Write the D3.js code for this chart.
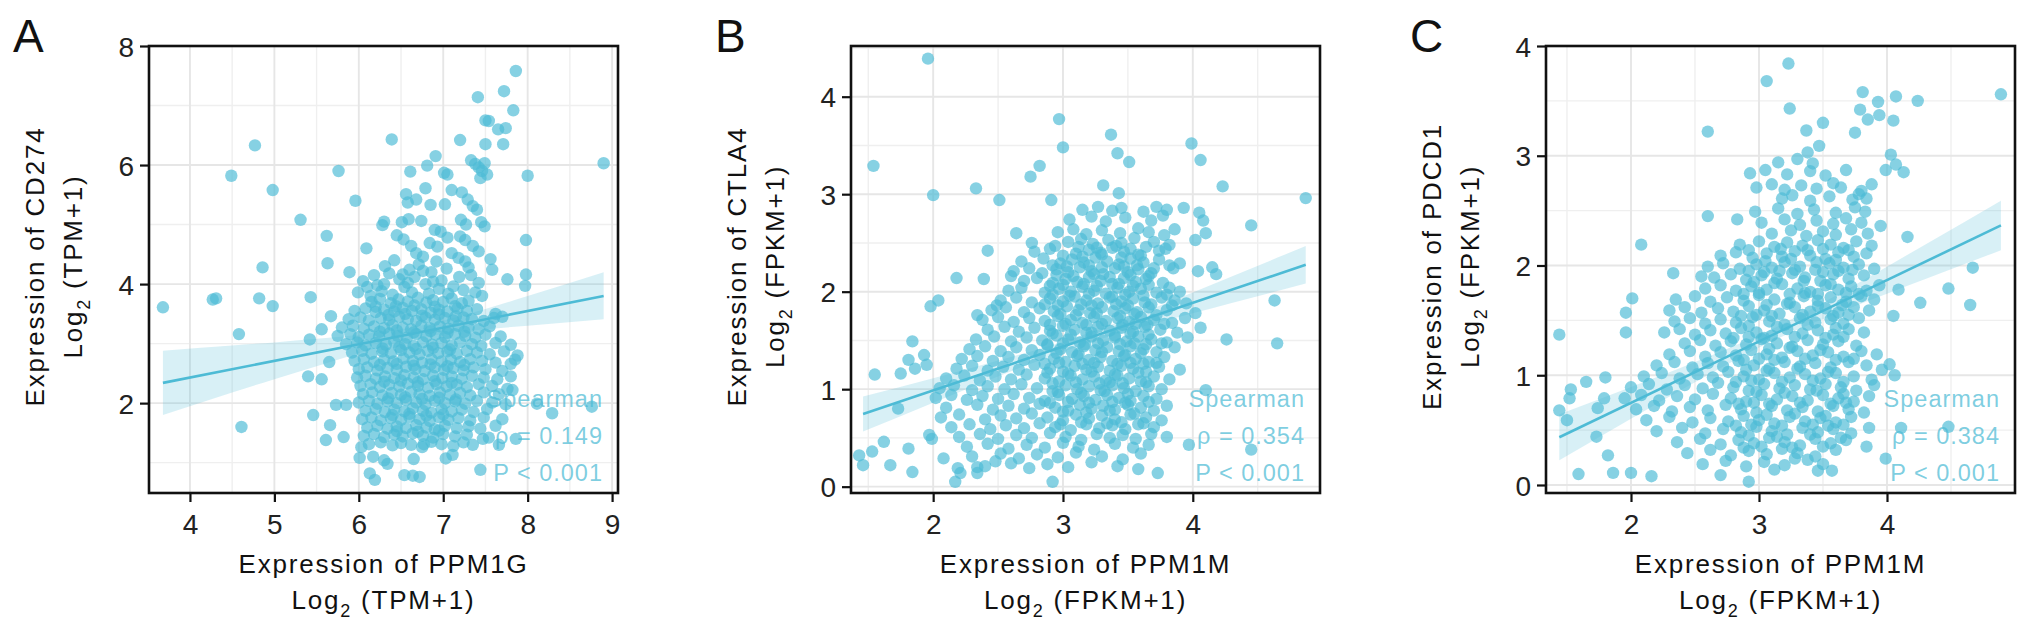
<!DOCTYPE html>
<html>
<head>
<meta charset="utf-8">
<script src="https://cdn.jsdelivr.net/npm/d3@7"></script>
<style>
  body { margin: 0; background: #fff; }
  svg { display: block; }
  text { font-family: "Liberation Sans", Arial, Helvetica, sans-serif; }
</style>
</head>
<body>
<svg id="chart" width="2032" height="630"></svg>
<script>
// ---- data ----

// panel A: PPM1G (x) vs CD274 (y), log2(TPM+1)
const cd274Points = [
  [3.68,3.61],[4.27,3.74],[4.31,3.76],[4.49,5.82],[4.58,3.16],[4.61,1.60],[4.77,6.33],[4.82,3.76],[4.86,4.28],[4.98,5.58],[4.98,3.63],
  [5.31,5.08],[5.40,2.45],[5.42,3.07],[5.43,3.78],[5.46,1.80],[5.56,3.24],[5.56,2.40],[5.61,1.38],[5.62,4.81],[5.63,4.35],[5.65,2.69],
  [5.66,1.63],[5.67,3.46],[5.73,1.97],[5.76,5.90],[5.82,1.43],[5.85,1.97],[5.89,4.20],[5.96,5.40],[6.09,4.60],[6.28,4.99],[6.39,6.43],
  [7.86,7.58],[7.41,7.14],[7.72,7.24],[7.83,6.92],[7.50,6.75],[7.54,6.74],[7.65,6.60],[7.74,6.62],[7.50,6.35],[7.71,6.35],[7.20,6.42],
  [8.90,6.03],[8.00,5.82],[7.98,4.74],[7.98,4.16],[7.97,3.97],[7.76,4.08],
  [7.33,6.08],[7.38,6.02],[7.42,5.96],[7.46,5.90],[7.52,5.84],[7.49,6.03],[7.44,5.78],
  [6.91,6.15],[6.81,5.99],[6.61,5.89],[7.01,5.87],[7.05,5.84],
  [8.11,1.99],[8.29,1.83],[8.76,1.94],[7.44,0.88],[7.35,1.30],[7.47,1.40],[7.54,1.42],[7.66,1.30],[7.86,1.40],[7.82,2.22],[7.76,2.24],[7.88,2.80],[7.80,2.66],
  [6.19,0.71],[6.13,0.82],[6.54,0.79],[6.64,0.78],[6.72,0.76],[6.03,1.26],[6.01,1.08],[6.17,1.10],[6.34,0.98],[6.30,1.04],[6.65,1.06],[6.75,1.26],[6.77,1.31],[7.03,1.07],[7.11,1.13],
  [6.56,5.51],[6.58,5.37],[6.68,5.42],[6.79,5.61],[6.85,5.33],[7.02,5.34],[7.10,5.58],[7.22,5.54],[7.29,5.42],[7.35,5.31],[7.40,5.25],
  [6.30,5.05],[6.51,5.04],[6.59,5.09],[6.74,5.06],[6.90,4.91],[6.97,4.88],[7.05,4.78],[7.21,5.08],[7.27,5.00],[7.45,5.04],[7.49,4.97],
  [7.20,4.80],[7.26,4.74],[6.45,4.82],[6.53,4.75],[6.62,4.64],[6.68,4.52],[6.76,4.46],[6.84,4.69],[6.93,4.63],[7.10,4.52],[7.18,4.44],
  [7.35,4.64],[7.42,4.55],[7.56,4.42],[7.58,4.24],[7.30,4.28],[7.33,4.15],[7.42,4.02],
  [6.05,4.05],[6.10,3.95],[6.18,4.15],[6.22,3.98],[6.31,4.30],[6.36,4.18],[6.42,4.40],[6.48,4.08],[6.54,3.95],[6.60,4.24],[6.66,4.12],
  [6.71,4.33],[6.79,4.00],[6.86,4.20],[6.92,4.38],[6.98,4.06],[7.04,4.26],[7.12,3.96],[7.19,4.12],[7.24,3.90],[7.38,3.86],[7.46,3.80],
  [6.27,3.88],[6.40,3.82],[6.63,3.86],[6.83,3.84],[6.95,3.92],[5.99,3.86],[6.14,3.80],[7.62,3.50],[7.70,3.45],
  [6.15,3.70],[6.25,3.75],[6.38,3.68],[6.47,3.74],[6.58,3.71],[6.70,3.77],[6.80,3.69],[6.88,3.73],[7.00,3.70],[7.10,3.76],[7.22,3.68],[7.30,3.72],
  [5.95,3.55],[6.08,3.59],[6.20,3.53],[6.30,3.57],[6.42,3.54],[6.52,3.60],[6.63,3.55],[6.74,3.58],[6.85,3.52],[6.95,3.57],[7.05,3.54],[7.17,3.59],[7.28,3.55],[7.40,3.58],
  [5.88,3.41],[6.02,3.44],[6.12,3.39],[6.26,3.43],[6.36,3.40],[6.48,3.45],[6.58,3.41],[6.68,3.38],[6.79,3.44],[6.90,3.40],[7.02,3.43],[7.12,3.39],[7.24,3.44],[7.34,3.41],[7.48,3.38],[7.60,3.43],
  [5.80,3.27],[5.93,3.30],[6.06,3.25],[6.18,3.29],[6.30,3.26],[6.40,3.31],[6.52,3.27],[6.62,3.24],[6.74,3.30],[6.84,3.26],[6.96,3.29],[7.06,3.25],[7.18,3.30],[7.30,3.27],[7.42,3.24],[7.55,3.29],
  [5.75,3.13],[5.90,3.16],[6.00,3.11],[6.12,3.15],[6.24,3.12],[6.36,3.17],[6.46,3.13],[6.57,3.10],[6.68,3.16],[6.80,3.12],[6.91,3.15],[7.02,3.11],[7.14,3.16],[7.26,3.13],[7.38,3.10],[7.50,3.15],[7.68,3.12],
  [5.85,2.99],[5.98,3.02],[6.08,2.97],[6.20,3.01],[6.32,2.98],[6.42,3.03],[6.55,2.99],[6.65,2.96],[6.76,3.02],[6.87,2.98],[6.98,3.01],[7.10,2.97],[7.20,3.02],[7.34,2.99],[7.45,2.96],[7.62,3.01],[7.80,2.98],
  [5.92,2.85],[6.04,2.88],[6.15,2.83],[6.28,2.87],[6.38,2.84],[6.50,2.89],[6.60,2.85],[6.72,2.82],[6.82,2.88],[6.94,2.84],[7.05,2.87],[7.16,2.83],[7.28,2.88],[7.40,2.85],[7.55,2.82],[7.72,2.87],
  [5.95,2.71],[6.06,2.74],[6.18,2.69],[6.30,2.73],[6.41,2.70],[6.53,2.75],[6.64,2.71],[6.75,2.68],[6.86,2.74],[6.98,2.70],[7.09,2.73],[7.20,2.69],[7.32,2.74],[7.46,2.71],[7.62,2.68],[7.85,2.73],
  [6.00,2.57],[6.10,2.60],[6.22,2.55],[6.34,2.59],[6.45,2.56],[6.56,2.61],[6.67,2.57],[6.78,2.54],[6.90,2.60],[7.01,2.56],[7.12,2.59],[7.24,2.55],[7.36,2.60],[7.50,2.57],[7.70,2.54],
  [5.98,2.43],[6.08,2.46],[6.20,2.41],[6.31,2.45],[6.42,2.42],[6.54,2.47],[6.65,2.43],[6.76,2.40],[6.88,2.46],[6.99,2.42],[7.10,2.45],[7.22,2.41],[7.34,2.46],[7.48,2.43],[7.64,2.40],[7.80,2.45],
  [6.02,2.29],[6.14,2.32],[6.25,2.27],[6.36,2.31],[6.48,2.28],[6.58,2.33],[6.70,2.29],[6.82,2.26],[6.92,2.32],[7.04,2.28],[7.16,2.31],[7.28,2.27],[7.42,2.32],[7.58,2.29],
  [6.05,2.15],[6.16,2.18],[6.28,2.13],[6.39,2.17],[6.50,2.14],[6.62,2.19],[6.72,2.15],[6.84,2.12],[6.96,2.18],[7.08,2.14],[7.20,2.17],[7.32,2.13],[7.48,2.18],[7.66,2.15],
  [6.00,2.01],[6.12,2.04],[6.22,1.99],[6.34,2.03],[6.45,2.00],[6.56,2.05],[6.68,2.01],[6.79,1.98],[6.90,2.04],[7.02,2.00],[7.14,2.03],[7.26,1.99],[7.40,2.04],[7.58,2.01],[7.74,1.98],
  [6.08,1.87],[6.20,1.90],[6.31,1.85],[6.42,1.89],[6.54,1.86],[6.64,1.91],[6.76,1.87],[6.86,1.84],[6.98,1.90],[7.10,1.86],[7.22,1.89],[7.36,1.85],[7.52,1.90],
  [6.04,1.73],[6.15,1.76],[6.26,1.71],[6.38,1.75],[6.50,1.72],[6.60,1.77],[6.72,1.73],[6.84,1.70],[6.95,1.76],[7.06,1.72],[7.18,1.75],[7.32,1.71],[7.48,1.76],[7.70,1.73],
  [6.10,1.59],[6.22,1.62],[6.34,1.57],[6.45,1.61],[6.56,1.58],[6.68,1.63],[6.80,1.59],[6.90,1.56],[7.02,1.62],[7.16,1.58],[7.30,1.61],[7.44,1.57],[7.62,1.62],
  [6.06,1.45],[6.18,1.48],[6.30,1.43],[6.42,1.47],[6.52,1.44],[6.64,1.49],[6.76,1.45],[6.88,1.42],[7.00,1.48],[7.14,1.44],[7.28,1.47],
  [6.12,1.31],[6.26,1.34],[6.40,1.29],[6.50,1.33],[6.62,1.30],[6.86,1.35],[6.98,1.31],[7.12,1.28],[7.24,1.34],
  [6.35,3.48],[6.55,3.50],[6.75,3.47],[6.95,3.49],[7.15,3.46],[6.25,3.20],[6.45,3.22],[6.65,3.19],[6.85,3.21],[7.05,3.18],[7.25,3.20],
  [6.28,2.92],[6.48,2.94],[6.68,2.91],[6.88,2.93],[7.08,2.90],[6.25,2.64],[6.45,2.66],[6.65,2.63],[6.85,2.65],[7.05,2.62],[7.25,2.64],
  [6.30,2.36],[6.50,2.38],[6.70,2.35],[6.90,2.37],[7.10,2.34],[6.35,2.08],[6.55,2.10],[6.75,2.07],[6.95,2.09],[7.15,2.06],
  [6.40,1.80],[6.60,1.82],[6.80,1.79],[7.00,1.81],[6.45,1.53],[6.70,1.52],[6.95,1.54],
  [6.20,3.62],[6.44,3.63],[6.66,3.64],[6.90,3.62],[7.14,3.63],[6.30,4.00],[6.58,4.02],[6.88,4.04],[7.06,3.84],[6.52,4.16],[6.76,4.22],[7.26,4.38]
]
const cd274Fit = [[3.68,2.34],[8.90,3.80]]
// x, lower, upper of the confidence ribbon
const cd274Band = [[3.68,1.80,2.88],[4.5,2.18,2.97],[5.0,2.40,3.02],[5.5,2.62,3.08],[6.0,2.84,3.15],[6.7,3.09,3.29],[7.5,3.24,3.58],[8.0,3.30,3.80],[8.9,3.41,4.20]]

// panel B: PPM1M (x) vs CTLA4 (y), log2(FPKM+1)
const ctla4Points = [
  [1.96,4.39],[1.54,3.29],[2.00,2.99],[2.33,3.06],[2.51,2.94],[2.75,3.18],[2.82,3.29],[2.91,2.94],[2.97,3.77],[3.00,3.48],[3.37,3.61],
  [3.42,3.42],[3.51,3.33],[3.31,3.09],[3.43,3.01],[3.99,3.52],[4.06,3.35],[4.23,3.08],[4.87,2.96],[4.45,2.68],[4.63,1.91],[4.65,1.47],
  [4.26,1.51],[4.15,2.25],[4.10,0.99],[4.45,0.38],[3.97,0.43],[3.73,0.14],[2.92,0.05],[2.17,0.05],
  [2.64,2.60],[2.76,2.50],[2.42,2.42],[2.18,2.14],[2.39,2.13],[2.60,2.16],[1.98,1.85],[2.04,1.91],[2.34,1.76],[2.49,1.86],
  [1.84,1.49],[1.81,1.30],[1.93,1.35],[1.86,1.21],[1.75,1.16],[1.55,1.15],[1.95,1.25],[1.73,0.80],
  [1.43,0.32],[1.46,0.22],[1.53,0.36],[1.62,0.46],[1.67,0.22],[1.81,0.39],[1.84,0.15],[1.97,0.53],[1.99,0.49],[2.08,0.29],[2.19,0.19],
  [2.21,0.14],[2.34,0.20],[2.34,0.14],[2.48,0.26],
  [3.15,2.84],[3.27,2.87],[3.38,2.83],[3.45,2.86],[3.62,2.82],[3.72,2.87],[3.80,2.84],[3.93,2.86],[4.05,2.81],
  [3.05,2.74],[3.22,2.77],[3.33,2.72],[3.48,2.76],[3.68,2.73],[3.77,2.78],[4.08,2.73],
  [2.96,2.61],[3.08,2.64],[3.18,2.59],[3.30,2.63],[3.44,2.60],[3.58,2.65],[3.66,2.61],[3.78,2.58],[3.86,2.64],[4.10,2.60],
  [3.04,2.51],[3.14,2.54],[3.23,2.49],[3.35,2.53],[3.45,2.50],[3.55,2.55],[3.70,2.51],[3.82,2.48],[4.02,2.53],
  [2.78,2.41],[2.90,2.44],[3.10,2.39],[3.20,2.43],[3.29,2.40],[3.38,2.45],[3.47,2.41],[3.58,2.38],[3.79,2.44],
  [2.68,2.31],[2.85,2.34],[2.98,2.29],[3.07,2.33],[3.16,2.30],[3.25,2.35],[3.34,2.31],[3.43,2.28],[3.52,2.34],[3.62,2.30],[3.74,2.33],[3.90,2.29],
  [2.62,2.21],[2.74,2.24],[2.84,2.19],[2.95,2.23],[3.04,2.20],[3.13,2.25],[3.22,2.21],[3.31,2.18],[3.40,2.24],[3.50,2.20],[3.58,2.23],[3.68,2.19],[3.85,2.24],[4.04,2.21],[4.18,2.18],
  [2.70,2.11],[2.80,2.14],[2.92,2.09],[3.02,2.13],[3.11,2.10],[3.20,2.15],[3.29,2.11],[3.38,2.08],[3.47,2.14],[3.56,2.10],[3.64,2.13],
  [2.58,2.01],[2.68,2.04],[2.86,1.99],[2.97,2.03],[3.06,2.00],[3.15,2.05],[3.24,2.01],[3.33,1.98],[3.42,2.04],[3.51,2.00],[3.60,2.03],[3.72,1.99],[3.82,2.04],[3.90,2.00],
  [2.52,1.91],[2.64,1.94],[2.76,1.89],[2.90,1.93],[3.00,1.90],[3.09,1.95],[3.18,1.91],[3.27,1.88],[3.36,1.94],[3.45,1.90],[3.54,1.93],[3.63,1.89],[3.76,1.94],[3.86,1.91],[3.95,1.88],
  [2.45,1.81],[2.56,1.84],[2.70,1.79],[2.82,1.83],[2.93,1.80],[3.03,1.85],[3.12,1.81],[3.21,1.78],[3.30,1.84],[3.39,1.80],[3.48,1.83],[3.57,1.79],[3.66,1.84],[3.80,1.81],[4.02,1.78],
  [2.38,1.71],[2.50,1.74],[2.62,1.69],[2.74,1.73],[2.86,1.70],[2.96,1.75],[3.06,1.71],[3.15,1.68],[3.24,1.74],[3.33,1.70],[3.42,1.73],[3.51,1.69],[3.60,1.74],[3.70,1.71],[3.84,1.68],[3.94,1.73],
  [2.42,1.61],[2.55,1.64],[2.66,1.59],[2.78,1.63],[2.90,1.60],[3.00,1.65],[3.09,1.61],[3.18,1.58],[3.27,1.64],[3.36,1.60],[3.45,1.63],[3.54,1.59],[3.63,1.64],[3.75,1.61],[3.88,1.58],[4.06,1.63],
  [2.33,1.51],[2.47,1.54],[2.60,1.49],[2.72,1.53],[2.84,1.50],[2.95,1.55],[3.04,1.51],[3.13,1.48],[3.22,1.54],[3.31,1.50],[3.40,1.53],[3.49,1.49],[3.58,1.54],[3.68,1.51],[3.80,1.48],[3.96,1.53],
  [2.28,1.41],[2.40,1.44],[2.52,1.39],[2.64,1.43],[2.76,1.40],[2.88,1.45],[2.98,1.41],[3.07,1.38],[3.16,1.44],[3.25,1.40],[3.34,1.43],[3.43,1.39],[3.52,1.44],[3.62,1.41],[3.72,1.38],[3.86,1.43],
  [2.22,1.31],[2.34,1.34],[2.46,1.29],[2.58,1.33],[2.70,1.30],[2.82,1.35],[2.93,1.31],[3.02,1.28],[3.11,1.34],[3.20,1.30],[3.29,1.33],[3.38,1.29],[3.47,1.34],[3.56,1.31],[3.66,1.28],[3.78,1.33],
  [2.18,1.21],[2.30,1.24],[2.42,1.19],[2.54,1.23],[2.66,1.20],[2.78,1.25],[2.90,1.21],[3.00,1.18],[3.09,1.24],[3.18,1.20],[3.27,1.23],[3.36,1.19],[3.45,1.24],[3.54,1.21],[3.64,1.18],[3.74,1.23],[3.90,1.20],
  [2.10,1.11],[2.24,1.14],[2.36,1.09],[2.48,1.13],[2.60,1.10],[2.72,1.15],[2.86,1.11],[2.97,1.08],[3.06,1.14],[3.15,1.10],[3.24,1.13],[3.33,1.09],[3.42,1.14],[3.51,1.11],[3.60,1.08],[3.70,1.13],[3.82,1.10],
  [2.05,1.01],[2.16,1.04],[2.30,0.99],[2.42,1.03],[2.55,1.00],[2.68,1.05],[2.80,1.01],[2.92,0.98],[3.02,1.04],[3.11,1.00],[3.20,1.03],[3.29,0.99],[3.38,1.04],[3.47,1.01],[3.56,0.98],[3.66,1.03],[3.76,1.00],
  [2.02,0.91],[2.14,0.94],[2.26,0.89],[2.38,0.93],[2.50,0.90],[2.62,0.95],[2.74,0.91],[2.86,0.88],[2.97,0.94],[3.07,0.90],[3.16,0.93],[3.25,0.89],[3.34,0.94],[3.43,0.91],[3.52,0.88],[3.62,0.93],[3.72,0.90],
  [2.10,0.81],[2.34,0.84],[2.46,0.79],[2.58,0.83],[2.70,0.80],[2.82,0.85],[2.94,0.81],[3.04,0.78],[3.13,0.84],[3.22,0.80],[3.31,0.83],[3.40,0.79],[3.50,0.84],[3.60,0.81],[3.70,0.78],[3.80,0.83],
  [2.06,0.71],[2.20,0.74],[2.40,0.69],[2.52,0.73],[2.64,0.70],[2.76,0.75],[2.88,0.71],[3.00,0.68],[3.10,0.74],[3.20,0.70],[3.30,0.73],[3.40,0.69],[3.52,0.74],[3.64,0.71],[3.76,0.68],
  [2.14,0.61],[2.28,0.64],[2.44,0.59],[2.56,0.63],[2.70,0.60],[2.82,0.65],[2.94,0.61],[3.06,0.58],[3.18,0.64],[3.28,0.60],[3.38,0.63],[3.48,0.59],[3.58,0.64],[3.70,0.61],
  [2.20,0.51],[2.36,0.54],[2.50,0.49],[2.64,0.53],[2.76,0.50],[2.90,0.55],[3.02,0.51],[3.14,0.48],[3.26,0.54],[3.36,0.50],[3.46,0.53],[3.56,0.49],[3.68,0.54],[3.80,0.51],
  [2.26,0.41],[2.42,0.44],[2.58,0.39],[2.72,0.43],[2.86,0.40],[3.00,0.45],[3.12,0.41],[3.24,0.38],[3.40,0.44],[3.54,0.40],[3.66,0.43],
  [2.30,0.31],[2.52,0.34],[2.66,0.29],[2.80,0.33],[2.96,0.30],[3.10,0.35],[3.30,0.31],[3.46,0.28],[3.60,0.34],
  [2.40,0.21],[2.60,0.24],[2.74,0.19],[2.88,0.23],[3.04,0.20],[3.22,0.25],[3.42,0.21],[3.58,0.18],
  [3.00,2.37],[3.15,2.36],[3.30,2.38],[3.45,2.35],[3.60,2.37],[2.95,2.17],[3.08,2.16],[3.24,2.18],[3.36,2.15],[3.52,2.17],[3.66,2.16],
  [2.92,1.97],[3.05,1.96],[3.20,1.98],[3.38,1.95],[3.48,1.97],[3.62,1.96],[3.80,1.97],[2.98,1.77],[3.10,1.76],[3.26,1.78],[3.44,1.75],
  [3.55,1.77],[3.72,1.76],[2.92,1.57],[3.06,1.56],[3.22,1.58],[3.40,1.55],[3.52,1.57],[3.66,1.56],[2.95,1.37],[3.12,1.36],[3.30,1.38],
  [3.48,1.35],[3.60,1.37],[2.88,1.17],[3.04,1.16],[3.22,1.18],[3.40,1.15],[3.58,1.17],[2.96,0.97],[3.14,0.96],[3.32,0.98],[3.50,0.95],
  [3.00,0.77],[3.18,0.76],[3.36,0.78],[3.55,0.75],
  [2.94,2.47],[3.12,2.46],[3.26,2.45],[3.41,2.47],[3.52,2.44],[3.64,2.46],[3.74,2.42],
  [2.92,2.27],[3.03,2.26],[3.20,2.27],[3.30,2.25],[3.47,2.26],[3.57,2.27],[3.70,2.24],[3.82,2.27],
  [2.90,2.06],[3.00,2.07],[3.16,2.08],[3.26,2.06],[3.43,2.08],[3.54,2.06],[3.66,2.07],[3.77,2.09],
  [2.86,1.87],[2.96,1.86],[3.14,1.87],[3.22,1.86],[3.41,1.87],[3.50,1.86],[3.68,1.87],[3.84,1.86],
  [2.90,1.66],[3.02,1.67],[3.18,1.66],[3.30,1.67],[3.46,1.66],[3.56,1.67],[3.65,1.66],[3.78,1.67],
  [2.88,1.46],[3.00,1.47],[3.17,1.46],[3.27,1.47],[3.44,1.46],[3.55,1.47],[3.64,1.46],[3.76,1.47],
  [2.86,1.26],[2.97,1.27],[3.15,1.26],[3.24,1.27],[3.42,1.26],[3.52,1.27],[3.62,1.26],[3.72,1.27],
  [2.92,1.06],[3.10,1.07],[3.28,1.06],[3.36,1.07],[3.46,1.06],[3.64,1.07],
  [2.90,0.86],[3.04,0.87],[3.20,0.86],[3.38,0.87],[3.48,0.86],[3.66,0.87],
  [2.98,0.64],[3.14,0.66],[3.34,0.65],[3.45,0.66],[3.62,0.65]
]
const ctla4Fit = [[1.46,0.745],[4.87,2.276]]
const ctla4Band = [[1.46,0.565,0.925],[2.0,0.861,1.113],[2.5,1.131,1.293],[3.1,1.431,1.531],[3.7,1.670,1.832],[4.3,1.884,2.156],[4.87,2.083,2.469]]

// panel C: PPM1M (x) vs PDCD1 (y), log2(FPKM+1)
const pdcd1Points = [
  [3.23,3.84],[3.06,3.68],[3.24,3.43],[2.60,3.22],[4.89,3.56],[3.81,3.58],[3.93,3.49],[4.07,3.54],[4.24,3.50],[3.79,3.42],[3.85,3.33],
  [3.94,3.37],[4.05,3.32],[3.75,3.21],[3.37,3.23],[3.50,3.30],[3.47,3.09],[3.38,3.03],[4.03,3.01],[4.07,2.92],[4.13,2.85],[3.99,2.87],
  [4.16,2.26],[4.67,1.98],[4.48,1.79],[4.26,1.66],[4.65,1.64],[4.09,1.78],[4.05,1.54],[2.08,2.19],[1.44,1.37],[2.60,2.45],[2.83,2.42],
  [2.33,1.93],[2.55,1.90],[2.01,1.70],[1.96,1.57],[1.96,1.39],
  [1.59,0.10],[1.86,0.11],[2.00,0.11],[2.16,0.08],[2.70,0.09],[2.92,0.03],[3.57,0.13],[1.82,0.27],[1.73,0.44],[1.44,0.68],[1.50,0.59],
  [1.53,0.87],[1.52,0.79],[1.65,0.94],[1.80,0.98],[1.79,0.79],[1.74,0.70],[4.48,0.53],[3.99,0.24],[4.11,0.52],[3.84,0.35],[4.02,1.10],
  [4.06,1.00],[3.96,1.05],
  [3.15,2.94],[3.30,2.97],[3.42,2.93],
  [2.93,2.84],[3.05,2.87],[3.22,2.83],[3.40,2.86],[3.52,2.82],[3.68,2.87],
  [2.98,2.71],[3.10,2.74],[3.20,2.69],[3.33,2.73],[3.45,2.70],[3.58,2.75],[3.64,2.71],[3.80,2.68],[3.88,2.74],
  [3.18,2.61],[3.26,2.64],[3.40,2.59],[3.55,2.63],[3.73,2.60],[3.78,2.65],[3.84,2.61],
  [2.97,2.49],[3.15,2.52],[3.30,2.47],[3.43,2.51],[3.60,2.48],[3.75,2.53],[3.83,2.49],
  [3.02,2.39],[3.20,2.42],[3.32,2.37],[3.45,2.41],[3.58,2.38],[3.68,2.43],[3.80,2.39],[3.95,2.36],
  [3.10,2.29],[3.25,2.32],[3.37,2.27],[3.50,2.31],[3.60,2.28],[3.72,2.33],[3.85,2.29],
  [2.85,2.19],[3.00,2.22],[3.12,2.17],[3.22,2.21],[3.34,2.18],[3.46,2.23],[3.56,2.19],[3.66,2.16],[3.76,2.22],[3.88,2.18],
  [2.70,2.09],[2.82,2.12],[2.95,2.07],[3.06,2.11],[3.18,2.08],[3.28,2.13],[3.40,2.09],[3.52,2.06],[3.62,2.12],[3.74,2.08],[3.84,2.11],
  [2.60,1.99],[2.72,2.02],[2.85,1.97],[2.98,2.01],[3.10,1.98],[3.20,2.03],[3.32,1.99],[3.44,1.96],[3.55,2.02],[3.66,1.98],[3.78,2.01],[3.90,1.97],
  [2.65,1.89],[2.78,1.92],[2.90,1.87],[3.02,1.91],[3.14,1.88],[3.26,1.93],[3.36,1.89],[3.48,1.86],[3.58,1.92],[3.70,1.88],[3.82,1.91],
  [2.58,1.79],[2.70,1.82],[2.82,1.77],[2.94,1.81],[3.06,1.78],[3.18,1.83],[3.30,1.79],[3.40,1.76],[3.52,1.82],[3.62,1.78],[3.72,1.81],[3.84,1.77],[3.94,1.82],
  [2.35,1.69],[2.50,1.72],[2.62,1.67],[2.75,1.71],[2.88,1.68],[3.00,1.73],[3.12,1.69],[3.24,1.66],[3.35,1.72],[3.46,1.68],[3.56,1.71],[3.68,1.67],[3.80,1.72],[3.90,1.69],
  [2.30,1.59],[2.42,1.62],[2.55,1.57],[2.68,1.61],[2.80,1.58],[2.92,1.63],[3.04,1.59],[3.16,1.56],[3.28,1.62],[3.40,1.58],[3.52,1.61],[3.62,1.57],[3.74,1.62],[3.86,1.59],
  [2.34,1.49],[2.46,1.52],[2.58,1.47],[2.70,1.51],[2.82,1.48],[2.95,1.53],[3.08,1.49],[3.20,1.46],[3.32,1.52],[3.44,1.48],[3.56,1.51],[3.66,1.47],[3.78,1.52],
  [2.26,1.39],[2.38,1.42],[2.50,1.37],[2.62,1.41],[2.74,1.38],[2.86,1.43],[2.98,1.39],[3.10,1.36],[3.22,1.42],[3.34,1.38],[3.46,1.41],[3.58,1.37],[3.70,1.42],[3.82,1.39],
  [2.42,1.29],[2.54,1.32],[2.66,1.27],[2.78,1.31],[2.90,1.28],[3.02,1.33],[3.14,1.29],[3.26,1.26],[3.38,1.32],[3.50,1.28],[3.62,1.31],[3.76,1.27],
  [2.30,1.19],[2.46,1.22],[2.58,1.17],[2.70,1.21],[2.82,1.18],[2.94,1.23],[3.06,1.19],[3.18,1.16],[3.30,1.22],[3.42,1.18],[3.54,1.21],[3.66,1.17],[3.80,1.22],[3.92,1.19],
  [2.20,1.09],[2.34,1.12],[2.48,1.07],[2.60,1.11],[2.72,1.08],[2.84,1.13],[2.96,1.09],[3.08,1.06],[3.20,1.12],[3.32,1.08],[3.44,1.11],[3.56,1.07],[3.70,1.12],[3.84,1.09],
  [2.10,0.99],[2.24,1.02],[2.38,0.97],[2.52,1.01],[2.64,0.98],[2.76,1.03],[2.88,0.99],[3.00,0.96],[3.12,1.02],[3.24,0.98],[3.36,1.01],[3.48,0.97],[3.60,1.02],[3.74,0.99],[3.88,0.96],
  [2.00,0.89],[2.14,0.92],[2.28,0.87],[2.42,0.91],[2.56,0.88],[2.68,0.93],[2.80,0.89],[2.92,0.86],[3.04,0.92],[3.16,0.88],[3.28,0.91],[3.40,0.87],[3.52,0.92],[3.64,0.89],[3.76,0.86],[3.90,0.91],
  [1.95,0.79],[2.08,0.82],[2.22,0.77],[2.36,0.81],[2.50,0.78],[2.64,0.83],[2.78,0.79],[2.90,0.76],[3.02,0.82],[3.14,0.78],[3.26,0.81],[3.38,0.77],[3.50,0.82],[3.62,0.79],[3.74,0.76],[3.86,0.81],
  [2.04,0.69],[2.18,0.72],[2.32,0.67],[2.46,0.71],[2.60,0.68],[2.74,0.73],[2.86,0.69],[2.98,0.66],[3.10,0.72],[3.22,0.68],[3.34,0.71],[3.46,0.67],[3.58,0.72],[3.70,0.69],[3.82,0.66],
  [2.12,0.59],[2.30,0.62],[2.48,0.57],[2.62,0.61],[2.76,0.58],[2.88,0.63],[3.00,0.59],[3.12,0.56],[3.24,0.62],[3.36,0.58],[3.48,0.61],[3.60,0.57],[3.72,0.62],
  [2.20,0.49],[2.40,0.52],[2.58,0.47],[2.72,0.51],[2.86,0.48],[2.98,0.53],[3.10,0.49],[3.22,0.46],[3.34,0.52],[3.46,0.48],[3.58,0.51],[3.72,0.47],[3.86,0.52],
  [2.36,0.39],[2.54,0.42],[2.70,0.37],[2.84,0.41],[2.96,0.38],[3.08,0.43],[3.20,0.39],[3.32,0.36],[3.44,0.42],[3.56,0.38],[3.68,0.41],
  [2.44,0.29],[2.62,0.32],[2.78,0.27],[2.92,0.31],[3.06,0.28],[3.18,0.33],[3.30,0.29],[3.44,0.26],[3.60,0.32],
  [2.56,0.19],[2.74,0.22],[2.90,0.17],[3.04,0.21],[3.20,0.18],[3.38,0.23],[3.50,0.19],
  [3.05,2.04],[3.25,2.06],[3.45,2.03],[3.60,2.05],[2.96,1.85],[3.12,1.84],[3.35,1.86],[3.56,1.83],[3.06,1.64],[3.22,1.65],[3.46,1.63],
  [3.65,1.64],[2.92,1.45],[3.14,1.44],[3.38,1.46],[3.60,1.43],[3.08,1.24],[3.24,1.25],[3.48,1.23],[2.90,1.05],[3.06,1.04],[3.30,1.06],
  [3.54,1.03],[2.98,0.85],[3.20,0.84],[3.45,0.86],[3.66,0.83],[3.06,0.64],[3.28,0.65],[3.52,0.63],[2.92,0.45],[3.14,0.44],[3.40,0.46],
  [3.64,0.43],[3.28,0.24],[3.12,0.14],[3.46,0.13],
  [2.92,2.14],[3.17,2.15],[3.38,2.14],[3.50,2.15],[3.70,2.14],
  [2.92,1.95],[3.04,1.94],[3.16,1.95],[3.28,1.96],[3.50,1.94],[3.62,1.95],[3.73,1.96],
  [2.88,1.74],[3.00,1.75],[3.24,1.74],[3.36,1.75],[3.46,1.74],[3.68,1.75],[3.78,1.74],
  [2.86,1.54],[2.98,1.55],[3.10,1.54],[3.34,1.55],[3.58,1.54],[3.70,1.55],
  [2.80,1.34],[2.92,1.35],[3.04,1.34],[3.28,1.35],[3.52,1.34],[3.66,1.35],
  [2.88,1.14],[3.00,1.15],[3.12,1.14],[3.36,1.15],[3.60,1.14],[3.74,1.15],
  [2.82,0.94],[2.94,0.95],[3.18,0.94],[3.42,0.95],[3.66,0.94],
  [2.84,0.74],[2.96,0.75],[3.08,0.74],[3.32,0.75],[3.56,0.74],[3.68,0.75],
  [2.82,0.54],[2.94,0.55],[3.18,0.54],[3.42,0.55],[3.54,0.54],[3.66,0.55],
  [2.88,0.34],[3.02,0.35],[3.26,0.34],[3.50,0.35]
]
const pdcd1Fit = [[1.44,0.435],[4.89,2.365]]
const pdcd1Band = [[1.44,0.225,0.645],[2.0,0.603,0.893],[2.5,0.936,1.120],[3.1,1.309,1.419],[3.7,1.607,1.791],[4.3,1.878,2.192],[4.89,2.139,2.591]]

// axis ticks
const ticksXA = [4, 5, 6, 7, 8, 9]
const ticksYA = [2, 4, 6, 8]
const ticksXBC = [2, 3, 4]
const ticksYBC = [0, 1, 2, 3, 4]

// panel letters, genes, stats
const panelLetters = ['A', 'B', 'C']
const xGenes = ['PPM1G', 'PPM1M', 'PPM1M']
const yGenes = ['CD274', 'CTLA4', 'PDCD1']
const units = ['TPM+1', 'FPKM+1', 'FPKM+1']
const rhoValues = ['0.149', '0.354', '0.384']

// ---- drawing ----
const color = '#4dbbd5'
const plotTop = 46, plotBottom = 493, boxW = 469
const svg = d3.select('#chart')

const panels = [
  {left: 149, xDom: [3.515, 9.07], yDom: [0.49, 8.0], xt: ticksXA, yt: ticksYA, pts: cd274Points, fit: cd274Fit, band: cd274Band},
  {left: 851, xDom: [1.367, 4.98], yDom: [-0.065, 4.52], xt: ticksXBC, yt: ticksYBC, pts: ctla4Points, fit: ctla4Fit, band: ctla4Band},
  {left: 1546, xDom: [1.336, 5.0], yDom: [-0.073, 4.0], xt: ticksXBC, yt: ticksYBC, pts: pdcd1Points, fit: pdcd1Fit, band: pdcd1Band}
]

// minor breaks half way between majors (ggplot style)
function minorBreaks(ticks, dom) {
  const step = ticks[1] - ticks[0]
  const out = []
  for (let v = ticks[0] - step / 2; v <= ticks[ticks.length - 1] + step / 2 + 1e-9; v += step) {
    if (v > dom[0] && v < dom[1]) out.push(v)
  }
  return out
}

function log2Label(sel, unit) {
  sel.append('tspan').text('Log')
  sel.append('tspan').attr('font-size', 18).attr('dy', 8).text('2')
  sel.append('tspan').attr('dy', -8).text(' (' + unit + ')')
}

function titleText(sel) {
  return sel.attr('font-size', 26).attr('letter-spacing', 1.8).attr('fill', '#111')
}

panels.forEach((p, i) => {
  const x = d3.scaleLinear().domain(p.xDom).range([p.left, p.left + boxW])
  const y = d3.scaleLinear().domain(p.yDom).range([plotBottom, plotTop])
  const g = svg.append('g')

  // grid
  const grid = g.append('g')
  minorBreaks(p.xt, p.xDom).forEach(v => grid.append('line')
    .attr('x1', x(v)).attr('x2', x(v)).attr('y1', plotTop).attr('y2', plotBottom)
    .attr('stroke', '#efefef').attr('stroke-width', 1.4))
  minorBreaks(p.yt, p.yDom).forEach(v => grid.append('line')
    .attr('y1', y(v)).attr('y2', y(v)).attr('x1', p.left).attr('x2', p.left + boxW)
    .attr('stroke', '#efefef').attr('stroke-width', 1.4))
  p.xt.forEach(v => grid.append('line')
    .attr('x1', x(v)).attr('x2', x(v)).attr('y1', plotTop).attr('y2', plotBottom)
    .attr('stroke', '#e6e6e6').attr('stroke-width', 1.9))
  p.yt.forEach(v => grid.append('line')
    .attr('y1', y(v)).attr('y2', y(v)).attr('x1', p.left).attr('x2', p.left + boxW)
    .attr('stroke', '#e6e6e6').attr('stroke-width', 1.9))

  // confidence ribbon + fit line
  const area = d3.area().x(d => x(d[0])).y0(d => y(d[1])).y1(d => y(d[2])).curve(d3.curveMonotoneX)
  g.append('path').datum(p.band).attr('d', area).attr('fill', color).attr('fill-opacity', 0.22)
  g.append('path').datum(p.fit).attr('d', d3.line().x(d => x(d[0])).y(d => y(d[1])))
    .attr('stroke', color).attr('stroke-width', 2.6).attr('fill', 'none')

  // stats text
  const sx = p.left + boxW - 15
  const st = g.append('g').attr('fill', color).attr('fill-opacity', 0.72)
    .attr('font-size', 23.5).attr('letter-spacing', 1).attr('text-anchor', 'end')
  st.append('text').attr('x', sx).attr('y', 407).text('Spearman')
  st.append('text').attr('x', sx).attr('y', 444).text('\u03c1 = ' + rhoValues[i])
  st.append('text').attr('x', sx).attr('y', 481).text('P < 0.001')

  // points
  g.append('g').selectAll('circle').data(p.pts).join('circle')
    .attr('cx', d => x(d[0])).attr('cy', d => y(d[1])).attr('r', 6.2)
    .attr('fill', color).attr('fill-opacity', 0.68)

  // border
  g.append('rect').attr('x', p.left).attr('y', plotTop).attr('width', boxW).attr('height', plotBottom - plotTop)
    .attr('fill', 'none').attr('stroke', '#111').attr('stroke-width', 2.6)

  // axes
  const fmt = d3.format('d')
  const xAxis = g.append('g').attr('transform', `translate(0,${plotBottom})`)
    .call(d3.axisBottom(x).tickValues(p.xt).tickFormat(fmt).tickSize(9).tickPadding(12).tickSizeOuter(0))
  const yAxis = g.append('g').attr('transform', `translate(${p.left},0)`)
    .call(d3.axisLeft(y).tickValues(p.yt).tickFormat(fmt).tickSize(9).tickPadding(6).tickSizeOuter(0))
  ;[xAxis, yAxis].forEach(a => {
    a.select('.domain').remove()
    a.selectAll('line').attr('stroke', '#111').attr('stroke-width', 2.2)
    a.selectAll('text').attr('font-size', 28).attr('fill', '#222')
      .attr('font-family', '"Liberation Sans", Arial, sans-serif')
  })
  yAxis.selectAll('text').attr('dy', '0.36em')

  // axis titles
  const cx = p.left + boxW / 2
  titleText(g.append('text').attr('x', cx).attr('y', 573).attr('text-anchor', 'middle'))
    .text('Expression of ' + xGenes[i])
  log2Label(titleText(g.append('text').attr('x', cx).attr('y', 609).attr('text-anchor', 'middle')), units[i])

  const cy = (plotTop + plotBottom) / 2 - 3
  titleText(g.append('text').attr('transform', `translate(${p.left - 105},${cy}) rotate(-90)`)
    .attr('text-anchor', 'middle')).text('Expression of ' + yGenes[i])
  log2Label(titleText(g.append('text').attr('transform', `translate(${p.left - 67},${cy}) rotate(-90)`)
    .attr('text-anchor', 'middle')), units[i])

  // panel letter
  g.append('text').attr('x', p.left - 136).attr('y', 52).attr('font-size', 46)
    .attr('fill', '#111').text(panelLetters[i])
})
</script>
</body>
</html>
